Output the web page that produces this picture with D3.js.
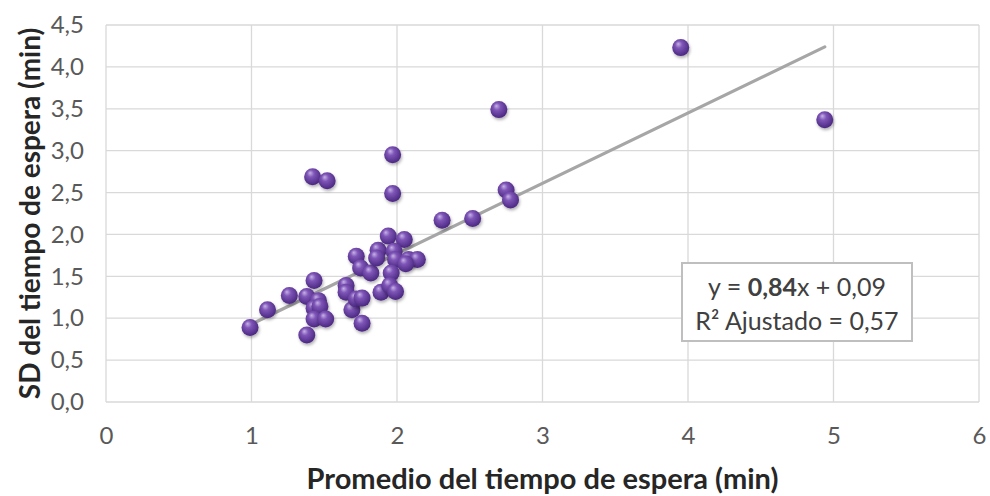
<!DOCTYPE html>
<html>
<head>
<meta charset="utf-8">
<script src="https://cdn.jsdelivr.net/npm/d3@7"></script>
<style>
  body { margin: 0; background: #fff; }
  svg text { font-family: Lato, "Open Sans", sans-serif; }
</style>
</head>
<body>
<div id="chart"></div>
<script>
// mean waiting time (x) and SD of waiting time (y), minutes
const promedio = [0.99, 1.11, 1.26, 1.43, 1.38, 1.46, 1.43, 1.47, 1.43, 1.51, 1.38,
  1.42, 1.52, 1.65, 1.65, 1.69, 1.72, 1.76, 1.76, 1.72, 1.75, 1.82, 1.87, 1.86,
  1.94, 2.05, 1.98, 1.99, 2.08, 2.14, 2.06, 1.96, 1.89, 1.95, 1.99, 1.97, 1.97,
  2.31, 2.52, 2.70, 2.75, 2.78, 3.95, 4.94];
const sd = [0.89, 1.10, 1.27, 1.45, 1.26, 1.21, 1.12, 1.14, 0.99, 0.99, 0.80,
  2.69, 2.64, 1.39, 1.31, 1.10, 1.23, 1.24, 0.94, 1.74, 1.60, 1.54, 1.81, 1.72,
  1.98, 1.94, 1.80, 1.70, 1.70, 1.70, 1.65, 1.54, 1.31, 1.39, 1.32, 2.49, 2.95,
  2.17, 2.19, 3.49, 2.53, 2.41, 4.23, 3.37];
const slope = 0.84, intercept = 0.09;
const xTicks = [0, 1, 2, 3, 4, 5, 6];
const yTicks = [0, 0.5, 1, 1.5, 2, 2.5, 3, 3.5, 4, 4.5];

const W = 990, H = 496;
const margin = { top: 25, right: 11, bottom: 94, left: 106 };

const svg = d3.select('#chart').append('svg')
  .attr('width', W).attr('height', H);

const x = d3.scaleLinear().domain([0, 6]).range([margin.left, W - margin.right]);
const y = d3.scaleLinear().domain([0, 4.5]).range([H - margin.bottom, margin.top]);
const fmt = d => d3.format('.1f')(d).replace('.', ',');

// sphere look for the markers
const defs = svg.append('defs');
const grad = defs.append('radialGradient').attr('id', 'ball')
  .attr('cx', '45%').attr('cy', '40%').attr('r', '60%')
  .attr('fx', '35%').attr('fy', '28%');
grad.append('stop').attr('offset', '0%').attr('stop-color', '#c7b2e6');
grad.append('stop').attr('offset', '35%').attr('stop-color', '#7f56b8');
grad.append('stop').attr('offset', '100%').attr('stop-color', '#4a2780');
const shadow = defs.append('filter').attr('id', 'shadow')
  .attr('x', '-50%').attr('y', '-50%').attr('width', '200%').attr('height', '200%');
shadow.append('feDropShadow').attr('dx', 1).attr('dy', 2).attr('stdDeviation', 1.5)
  .attr('flood-color', '#000').attr('flood-opacity', 0.3);

// grid
svg.append('g').selectAll('line').data(yTicks).join('line')
  .attr('x1', x(0)).attr('x2', x(6))
  .attr('y1', d => y(d)).attr('y2', d => y(d))
  .attr('stroke', '#d9d9d9').attr('stroke-width', 1.3);
svg.append('g').selectAll('line').data(xTicks).join('line')
  .attr('x1', d => x(d)).attr('x2', d => x(d))
  .attr('y1', y(0)).attr('y2', y(4.5))
  .attr('stroke', '#d9d9d9').attr('stroke-width', 1.3);

// axes (labels only)
const xAxis = svg.append('g').attr('transform', `translate(0,${y(0)})`)
  .call(d3.axisBottom(x).tickValues(xTicks).tickSize(0).tickPadding(25).tickFormat(d3.format('d')));
const yAxis = svg.append('g').attr('transform', `translate(${x(0)},0)`)
  .call(d3.axisLeft(y).tickValues(yTicks).tickSize(0).tickPadding(22).tickFormat(fmt));
[xAxis, yAxis].forEach(a => {
  a.select('.domain').remove();
  a.selectAll('text').attr('fill', '#595959').style('font-size', '24px')
    .style('font-family', 'Lato, "Open Sans", sans-serif');
});

// trend line
const xr = d3.extent(promedio);
svg.append('line')
  .attr('x1', x(xr[0])).attr('y1', y(slope * xr[0] + intercept))
  .attr('x2', x(xr[1])).attr('y2', y(slope * xr[1] + intercept))
  .attr('stroke', '#a6a6a6').attr('stroke-width', 3.2).attr('stroke-linecap', 'round');

// points
svg.append('g').selectAll('circle').data(d3.range(promedio.length)).join('circle')
  .attr('cx', i => x(promedio[i])).attr('cy', i => y(sd[i]))
  .attr('r', 8.5)
  .attr('fill', 'url(#ball)')
  .attr('filter', 'url(#shadow)');

// equation box
const box = svg.append('g');
box.append('rect').attr('x', 682).attr('y', 263).attr('width', 230).attr('height', 78)
  .attr('fill', '#fff').attr('stroke', '#bfbfbf').attr('stroke-width', 2);
const eq = box.append('text').attr('x', 797).attr('y', 296).attr('text-anchor', 'middle')
  .attr('fill', '#404040').style('font-size', '25px');
eq.append('tspan').text('y = ');
eq.append('tspan').attr('font-weight', 'bold').text('0,84');
eq.append('tspan').text('x + 0,09');
box.append('text').attr('x', 797).attr('y', 330).attr('text-anchor', 'middle')
  .attr('fill', '#404040').style('font-size', '25px').text('R² Ajustado = 0,57');

// axis titles
svg.append('text').attr('x', (x(0) + x(6)) / 2).attr('y', 489)
  .attr('text-anchor', 'middle').attr('font-weight', 'bold')
  .attr('fill', '#262626').style('font-size', '29px')
  .text('Promedio del tiempo de espera (min)');
svg.append('text')
  .attr('transform', `translate(40,${(y(0) + y(4.5)) / 2}) rotate(-90)`)
  .attr('text-anchor', 'middle').attr('font-weight', 'bold')
  .attr('fill', '#262626').style('font-size', '28px')
  .text('SD del tiempo de espera (min)');
</script>
</body>
</html>
